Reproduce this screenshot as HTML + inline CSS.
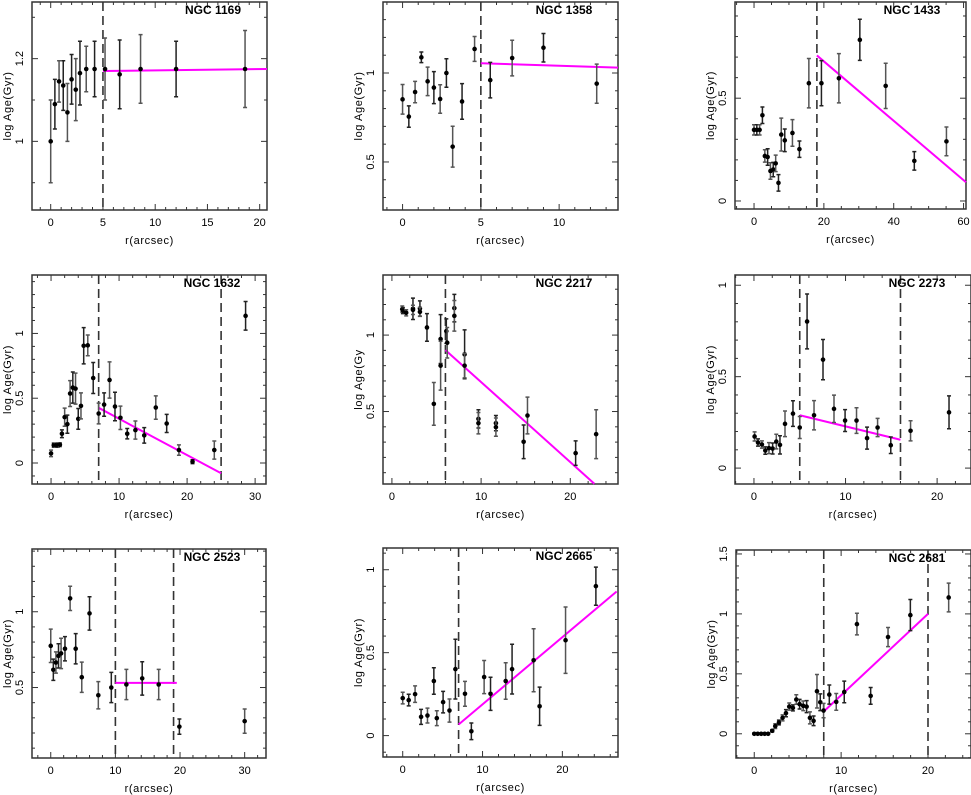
<!DOCTYPE html>
<html><head><meta charset="utf-8"><style>
html,body{margin:0;padding:0;background:#fff;}
svg{display:block;font-family:"Liberation Sans",sans-serif;}
</style></head><body>
<svg id="fig" width="971" height="795" viewBox="0 0 971 795"></svg>
<script>
// ---- data (r in arcsec, log Age in Gyr, error) ----
const p1_r   = [0,0.4,0.8,1.2,1.6,2.0,2.4,2.8,3.4,4.2,5.2,6.6,8.6,12,18.6];
const p1_age = [1.0,1.09,1.145,1.135,1.07,1.15,1.125,1.165,1.175,1.175,1.175,1.162,1.175,1.175,1.175];
const p1_err = [0.1,0.06,0.05,0.06,0.07,0.06,0.075,0.077,0.055,0.067,0.075,0.083,0.083,0.067,0.093];
const p1_fitR = [5,20.7], p1_fitAge = [1.17,1.175];
const p1_cuts = [5];

const p2_r   = [0,0.4,0.8,1.2,1.6,2.0,2.4,2.8,3.2,3.8,4.6,5.6,7,9,12.4];
const p2_age = [0.852,0.755,0.893,1.088,0.953,0.918,0.854,1.0,0.586,0.84,1.135,0.96,1.084,1.142,0.94];
const p2_err = [0.083,0.06,0.06,0.03,0.08,0.09,0.08,0.08,0.115,0.1,0.07,0.1,0.1,0.08,0.11];
const p2_fitR = [5,13.76], p2_fitAge = [1.055,1.03];
const p2_cuts = [5];

const p3_r   = [0,0.8,1.6,2.4,3.1,3.9,4.7,5.5,6.2,7.0,7.8,8.8,11,13,15.7,19.3,24.3,30.3,37.7,45.9,55.1];
const p3_age = [0.346,0.346,0.346,0.417,0.219,0.214,0.146,0.153,0.183,0.088,0.323,0.295,0.331,0.252,0.573,0.573,0.597,0.784,0.56,0.195,0.29];
const p3_err = [0.025,0.025,0.025,0.04,0.03,0.04,0.04,0.035,0.04,0.04,0.08,0.055,0.065,0.04,0.12,0.11,0.12,0.1,0.11,0.045,0.07];
const p3_fitR = [18,60.7], p3_fitAge = [0.708,0.091];
const p3_cuts = [18];

const p4_r   = [0,0.4,0.7,1.0,1.3,1.6,2.0,2.4,2.8,3.2,3.6,4.0,4.4,4.8,5.4,6.2,7.0,7.8,8.6,9.4,10.2,11.2,12.4,13.7,15.4,17.0,18.8,20.8,24.0,28.6];
const p4_age = [0.074,0.138,0.138,0.138,0.141,0.226,0.354,0.3,0.536,0.582,0.574,0.341,0.441,0.905,0.908,0.656,0.382,0.451,0.641,0.436,0.349,0.226,0.254,0.213,0.428,0.305,0.1,0.01,0.1,1.136];
const p4_err = [0.025,0.015,0.015,0.015,0.015,0.03,0.07,0.07,0.1,0.12,0.12,0.08,0.1,0.14,0.08,0.12,0.08,0.09,0.14,0.11,0.09,0.04,0.07,0.06,0.09,0.07,0.04,0.015,0.07,0.11];
const p4_fitR = [7,25], p4_fitAge = [0.426,-0.079];
const p4_cuts = [7,25];

const p5_r   = [1.16,1.23,1.6,2.36,2.36,3.14,3.14,3.93,4.7,5.46,5.46,6.1,6.2,7.0,7.0,8.15,8.15,9.7,9.7,11.66,11.66,14.77,15.2,20.6,22.9];
const p5_age = [1.17,1.16,1.146,1.172,1.165,1.174,1.152,1.05,0.55,0.974,0.8,1.026,0.95,1.176,1.126,0.874,0.8,0.452,0.424,0.424,0.398,0.302,0.474,0.228,0.352];
const p5_err = [0.02,0.02,0.02,0.07,0.03,0.05,0.03,0.09,0.14,0.16,0.16,0.08,0.1,0.09,0.1,0.16,0.08,0.06,0.07,0.05,0.06,0.11,0.12,0.08,0.16];
const p5_fitR = [6,22.7], p5_fitAge = [0.902,0.028];
const p5_cuts = [6];

const p6_r   = [0.07,0.44,0.87,1.24,1.64,2.04,2.44,2.84,3.39,4.26,5.0,5.8,6.56,7.54,8.74,9.95,11.2,12.35,13.5,14.94,17.1,21.3];
const p6_age = [0.173,0.14,0.129,0.096,0.109,0.107,0.145,0.127,0.242,0.298,0.222,0.802,0.289,0.593,0.324,0.26,0.26,0.164,0.222,0.125,0.204,0.305];
const p6_err = [0.025,0.02,0.02,0.02,0.03,0.03,0.04,0.05,0.07,0.07,0.06,0.15,0.08,0.11,0.075,0.06,0.07,0.06,0.05,0.045,0.055,0.09];
const p6_fitR = [5,16], p6_fitAge = [0.289,0.155];
const p6_cuts = [5,16];

const p7_r   = [0,0.4,0.8,1.2,1.6,2.2,3.0,3.86,4.8,6.0,7.36,9.37,11.7,14.15,16.7,19.9,30.0];
const p7_age = [0.775,0.617,0.665,0.709,0.725,0.756,1.088,0.756,0.568,0.989,0.449,0.5,0.52,0.56,0.52,0.242,0.278];
const p7_err = [0.11,0.07,0.07,0.08,0.1,0.08,0.08,0.1,0.1,0.11,0.09,0.1,0.1,0.11,0.1,0.05,0.08];
const p7_fitR = [10,19.5], p7_fitAge = [0.531,0.531];
const p7_cuts = [10,19];

const p8_r   = [0,0.75,1.55,2.3,3.1,3.9,4.27,5.06,5.86,6.6,7.8,8.6,10.2,11,12.9,13.7,16.4,17.15,20.4,24.2];
const p8_age = [0.226,0.214,0.25,0.113,0.121,0.329,0.105,0.202,0.151,0.401,0.252,0.026,0.353,0.252,0.329,0.401,0.454,0.177,0.575,0.901];
const p8_err = [0.035,0.035,0.05,0.045,0.045,0.08,0.045,0.065,0.07,0.18,0.075,0.05,0.1,0.1,0.11,0.15,0.19,0.115,0.2,0.115];
const p8_fitR = [7,26.8], p8_fitAge = [0.067,0.869];
const p8_cuts = [7];

const p9_r   = [0,0.4,0.8,1.2,1.6,2.07,2.42,2.84,3.26,3.65,4.03,4.45,4.84,5.22,5.64,6.03,6.41,6.83,7.22,7.6,7.98,8.64,9.44,10.36,11.82,13.4,15.4,17.97,22.38];
const p9_age = [0,0,0,0,0,0.025,0.064,0.094,0.133,0.172,0.227,0.216,0.286,0.247,0.233,0.227,0.133,0.108,0.355,0.263,0.194,0.327,0.266,0.349,0.915,0.316,0.807,0.99,1.137];
const p9_err = [0.005,0.005,0.005,0.005,0.005,0.01,0.02,0.02,0.025,0.03,0.03,0.025,0.04,0.04,0.04,0.05,0.05,0.04,0.14,0.07,0.06,0.08,0.07,0.09,0.09,0.07,0.08,0.13,0.12];
const p9_fitR = [8,20], p9_fitAge = [0.186,1.0];
const p9_cuts = [8,20];

const titles = ["NGC 1169","NGC 1358","NGC 1433","NGC 1632","NGC 2217","NGC 2273","NGC 2523","NGC 2665","NGC 2681"];

// ---- layout (frames and axis ranges) ----
const panels = [
 {id:"ngc1169",t:titles[0],f:[32,267,2,210],  x:[-1.79,20.7], y:[0.834,1.337], xs:[5,1],  ys:[0.2,0.1], yl:"log  Age(Gyr)", r:p1_r,a:p1_age,e:p1_err,fr:p1_fitR,fa:p1_fitAge,c:p1_cuts},
 {id:"ngc1358",t:titles[1],f:[383,618,2,210], x:[-1.25,13.76],y:[0.23,1.399],  xs:[5,1],  ys:[0.5,0.1], yl:"log  Age(Gyr)", r:p2_r,a:p2_age,e:p2_err,fr:p2_fitR,fa:p2_fitAge,c:p2_cuts},
 {id:"ngc1433",t:titles[2],f:[735,966,2,209], x:[-5.45,60.7], y:[-0.039,0.968],xs:[20,5], ys:[0.5,0.1], yl:"log  Age(Gyr)", r:p3_r,a:p3_age,e:p3_err,fr:p3_fitR,fa:p3_fitAge,c:p3_cuts},
 {id:"ngc1632",t:titles[3],f:[32,266,275,484],x:[-2.8,31.6],  y:[-0.162,1.451],xs:[10,2], ys:[0.5,0.1], yl:"log  Age(Gyr)", r:p4_r,a:p4_age,e:p4_err,fr:p4_fitR,fa:p4_fitAge,c:p4_cuts},
 {id:"ngc2217",t:titles[4],f:[383,618,275,484],x:[-1.0,25.35],y:[0.026,1.393], xs:[10,2], ys:[0.5,0.1], yl:"log  Age(Gy",   r:p5_r,a:p5_age,e:p5_err,fr:p5_fitR,fa:p5_fitAge,c:p5_cuts},
 {id:"ngc2273",t:titles[5],f:[735,971,275,484],x:[-2.07,23.7], y:[-0.087,1.056],xs:[10,2], ys:[0.5,0.1], yl:"log  Age(Gyr)", r:p6_r,a:p6_age,e:p6_err,fr:p6_fitR,fa:p6_fitAge,c:p6_cuts},
 {id:"ngc2523",t:titles[6],f:[32,266,549,758],x:[-2.9,33.3],  y:[0.035,1.414], xs:[10,2], ys:[0.5,0.1], yl:"log  Age(Gyr)", r:p7_r,a:p7_age,e:p7_err,fr:p7_fitR,fa:p7_fitAge,c:p7_cuts},
 {id:"ngc2665",t:titles[7],f:[383,618,548,757],x:[-2.47,26.97],y:[-0.129,1.131],xs:[10,2], ys:[0.5,0.1], yl:"log  Age(Gyr)", r:p8_r,a:p8_age,e:p8_err,fr:p8_fitR,fa:p8_fitAge,c:p8_cuts},
 {id:"ngc2681",t:titles[8],f:[736,971,550,758],x:[-2.1,24.95], y:[-0.202,1.533],xs:[10,2], ys:[0.5,0.1], yl:"log  Age(Gyr)", r:p9_r,a:p9_age,e:p9_err,fr:p9_fitR,fa:p9_fitAge,c:p9_cuts}
];

const NS="http://www.w3.org/2000/svg";
const svg=document.getElementById("fig");
function mk(tag,attrs,parent){const el=document.createElementNS(NS,tag);for(const k in attrs)el.setAttribute(k,attrs[k]);parent.appendChild(el);return el;}
function fmt(v){let s=(Math.round(v*100)/100).toString();return s;}

panels.forEach(p=>{
  const [L,R,T,B]=p.f;
  const sx=v=>L+(v-p.x[0])/(p.x[1]-p.x[0])*(R-L);
  const sy=v=>B-(v-p.y[0])/(p.y[1]-p.y[0])*(B-T);
  const g=mk("g",{},svg);
  
  
  const tg=mk("g",{stroke:"#333","stroke-width":1},g);
  
  
  const eps=1e-6;
  for(let v=Math.ceil(p.x[0]/p.xs[1]-eps)*p.xs[1]; v<=p.x[1]+eps; v+=p.xs[1]){
    const X=sx(v); const maj=Math.abs(v/p.xs[0]-Math.round(v/p.xs[0]))<1e-4; const len=maj?6:3;
    mk("line",{x1:X,x2:X,y1:B,y2:B-len},tg); mk("line",{x1:X,x2:X,y1:T,y2:T+len},tg);
    if(maj){const t=mk("text",{x:X,y:B+16,"text-anchor":"middle","font-size":11,fill:"#000",stroke:"none"},g);t.textContent=fmt(v);
      
      }
  }
  for(let v=Math.ceil(p.y[0]/p.ys[1]-eps)*p.ys[1]; v<=p.y[1]+eps; v+=p.ys[1]){
    const Y=sy(v); const maj=Math.abs(v/p.ys[0]-Math.round(v/p.ys[0]))<1e-4; const len=maj?6:3;
    mk("line",{x1:L,x2:L+len,y1:Y,y2:Y},tg); mk("line",{x1:R,x2:R-len,y1:Y,y2:Y},tg);
    if(maj){const t=mk("text",{x:0,y:0,transform:`translate(${L-9},${Y}) rotate(-90)`,"text-anchor":"middle","font-size":11,fill:"#000"},g);t.textContent=fmt(v);
      
      }
  }
  const fr=mk("rect",{x:L,y:T,width:R-L,height:B-T,fill:"none",stroke:"#333","stroke-width":1.5},g);
  
  
  p.c.forEach(cv=>{const l=mk("line",{x1:sx(cv),x2:sx(cv),y1:T,y2:B,stroke:"#333","stroke-width":1.6,"stroke-dasharray":"9,5"},g);
    
    });
  const fl=mk("line",{x1:sx(p.fr[0]),y1:sy(p.fa[0]),x2:sx(p.fr[1]),y2:sy(p.fa[1]),stroke:"#ff00ff","stroke-width":2},g);
  
  
  p.r.forEach((rv,i)=>{
    const X=sx(rv),Y=sy(p.a[i]),y1=sy(p.a[i]+p.e[i]),y2=sy(p.a[i]-p.e[i]);
    const col=i%2?"#222":"#555";
    const eb=mk("path",{d:`M${X},${y1}V${y2}M${X-2},${y1}H${X+2}M${X-2},${y2}H${X+2}`,stroke:col,"stroke-width":1.5,fill:"none"},g);
    
    
    const c=mk("circle",{cx:X,cy:Y,r:2.3,fill:"#000"},g);
    
    
  });
  const ti=mk("text",{x:R-54,y:T+12,"text-anchor":"middle","font-size":12,"font-weight":"bold",fill:"#000"},g);ti.textContent=p.t;
  
  
  const xl=mk("text",{x:(L+R)/2,y:B+34,"text-anchor":"middle","font-size":11,"letter-spacing":"0.6",fill:"#000"},g);xl.textContent="r(arcsec)";
  
  
  const yl=mk("text",{x:0,y:0,transform:`translate(${L-21},${(T+B)/2}) rotate(-90)`,"text-anchor":"middle","font-size":11,"letter-spacing":"0.6",fill:"#000"},g);yl.textContent=p.yl;
  
  
});
</script>
</body></html>
